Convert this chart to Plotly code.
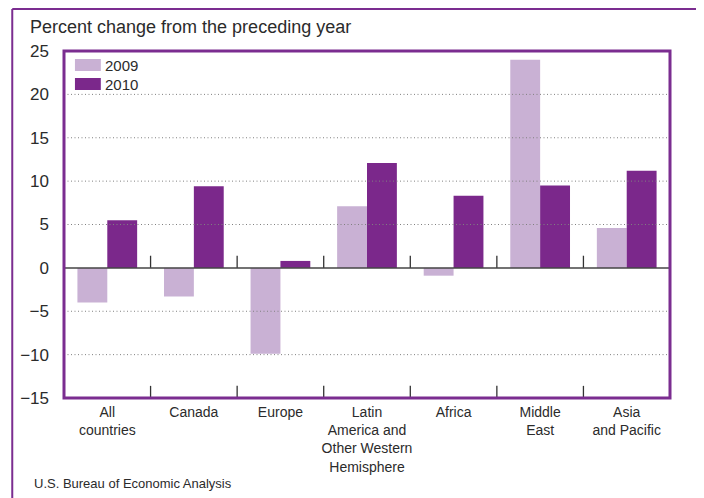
import plotly.graph_objects as go

regions = ['All<br>countries', 'Canada', 'Europe',
           'Latin<br>America and<br>Other Western<br>Hemisphere',
           'Africa', 'Middle<br>East', 'Asia<br>and Pacific']
change_2009 = [-4.0, -3.3, -9.9, 7.1, -0.9, 24.0, 4.6]
change_2010 = [5.5, 9.4, 0.8, 12.1, 8.3, 9.5, 11.2]
years = ['2009', '2010']
y_ticks = [-15, -10, -5, 0, 5, 10, 15, 20, 25]

light = '#c9b1d4'
dark = '#7b288b'
frame = '#7b2d90'
txt = '#2b2b2b'
font = 'Liberation Sans, Arial, sans-serif'

# the page has an 8px body margin, so the figure is drawn 8px in
W, H = 696, 490
ml, mr, mt, mb = 53, 34, 43, 100
pw, ph = W - ml - mr, H - mt - mb

x = list(range(len(regions)))

fig = go.Figure()
fig.add_trace(go.Bar(x=x, y=change_2009, name=years[0], marker=dict(color=light, line_width=0)))
fig.add_trace(go.Bar(x=x, y=change_2010, name=years[1], marker=dict(color=dark, line_width=0)))

shapes = []
# dotted gridlines drawn above the bars
for t in y_ticks:
    if t in (-15, 0, 25):
        continue
    shapes.append(dict(type='line', xref='paper', yref='y', x0=0, x1=1, y0=t, y1=t, layer='above',
                       line=dict(color='#808080', width=1, dash='1px,2.5px')))
# category divider ticks, at the bottom and on the zero line
for b in range(len(regions) - 1):
    xb = b + 0.5
    shapes.append(dict(type='line', xref='x', yref='y', x0=xb, x1=xb, y0=-15, y1=-13.6,
                       line=dict(color='#333', width=1.3)))
    shapes.append(dict(type='line', xref='x', yref='y', x0=xb, x1=xb, y0=0, y1=1.4,
                       line=dict(color='#333', width=1.3)))
# zero line
shapes.append(dict(type='line', xref='paper', yref='y', x0=0, x1=1, y0=0, y1=0,
                   line=dict(color='#444', width=1.5)))
# plot frame
shapes.append(dict(type='rect', xref='paper', yref='paper', x0=0, x1=1, y0=0, y1=1,
                   line=dict(color=frame, width=3)))
# outer frame (top and left only)
ox = (1 - ml) / pw
oy = 1 + (mt - 1) / ph
shapes.append(dict(type='line', xref='paper', yref='paper', x0=ox, x1=1.1, y0=oy, y1=oy,
                   line=dict(color=frame, width=2)))
shapes.append(dict(type='line', xref='paper', yref='paper', x0=ox, x1=ox, y0=oy, y1=-0.35,
                   line=dict(color=frame, width=2)))

# legend swatches
leg_colors = [light, dark]
for i, c in enumerate(leg_colors):
    top = 1 - (8 + i * 19) / ph
    shapes.append(dict(type='rect', xref='paper', yref='paper', x0=11 / pw, x1=37 / pw,
                       y0=top - 12 / ph, y1=top, fillcolor=c, line_width=0))

annotations = []
for i, yr in enumerate(years):
    annotations.append(dict(text=yr, xref='paper', yref='paper', x=39 / pw,
                            y=1 - (14 + i * 19) / ph, xanchor='left', yanchor='middle',
                            showarrow=False, font=dict(size=15, color=txt)))
annotations.append(dict(text='Percent change from the preceding year', xref='paper', yref='paper',
                        x=-36 / pw, y=1 + 24 / ph, xanchor='left', yanchor='middle',
                        showarrow=False, font=dict(size=18, color=txt)))
annotations.append(dict(text='U.S. Bureau of Economic Analysis', xref='paper', yref='paper',
                        x=-32 / pw, y=-85 / ph, xanchor='left', yanchor='middle',
                        showarrow=False, font=dict(size=13, color=txt)))

fig.update_layout(
    width=W, height=H,
    margin=dict(l=ml, r=mr, t=mt, b=mb),
    paper_bgcolor='white', plot_bgcolor='white',
    barmode='group', bargap=0.31, bargroupgap=0,
    showlegend=False,
    font=dict(family=font, color=txt),
    shapes=shapes,
    annotations=annotations,
    xaxis=dict(range=[-0.5, 6.5], tickvals=x, ticktext=regions, showgrid=False,
               zeroline=False, showline=False, ticks='', ticklabelstandoff=4,
               tickfont=dict(size=14, color=txt), fixedrange=True),
    yaxis=dict(range=[-15, 25], tickvals=y_ticks,
               ticktext=[str(v).replace('-', '\u2212') for v in y_ticks],
               showgrid=False, zeroline=False, showline=False, ticks='', ticklabelstandoff=14,
               tickfont=dict(size=17, color=txt), fixedrange=True),
)

fig.write_html('out.html')
